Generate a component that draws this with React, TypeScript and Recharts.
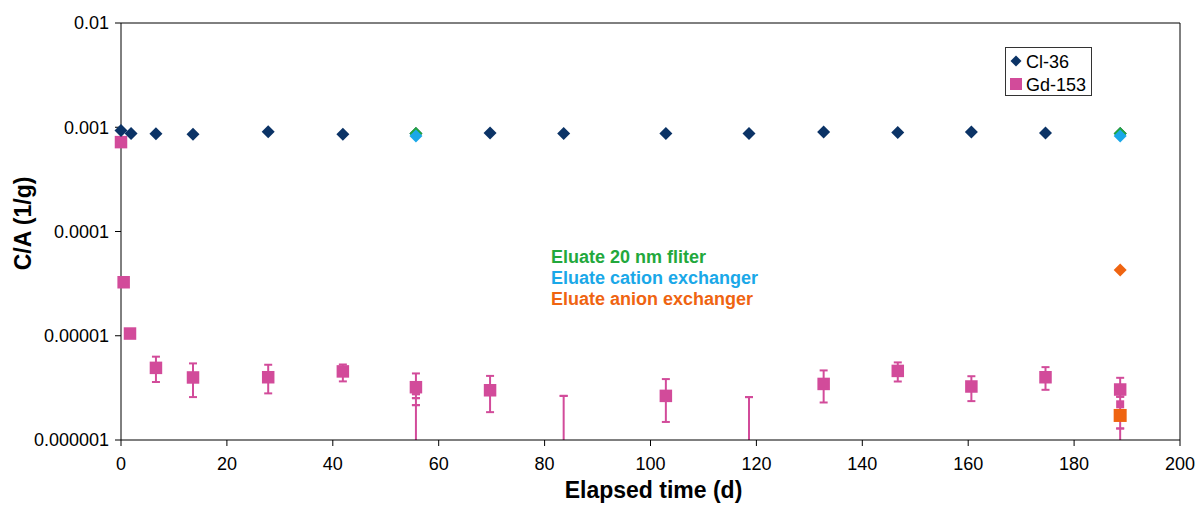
import React from 'react';
import { ScatterChart, Scatter, XAxis, YAxis, ErrorBar, ReferenceLine, Legend } from 'recharts';

const FONT = '"Liberation Sans", Arial, Helvetica, sans-serif';
const NAVY = '#0b3366';
const PINK = '#d24b9a';
const GREEN = '#22a83c';
const CYAN = '#1aa8e8';
const ORANGE = '#ef6411';

// Axis ticks
const xTicks = [0, 20, 40, 60, 80, 100, 120, 140, 160, 180, 200];
const yTicks = [0.000001, 0.00001, 0.0001, 0.001, 0.01];
const yTickLabels = ['0.000001', '0.00001', '0.0001', '0.001', '0.01'];

// Cl-36
const clDays = [0, 1.9, 6.6, 13.6, 27.8, 41.9, 55.7, 69.7, 83.6, 102.9, 118.6, 132.7, 146.7, 160.6, 174.6, 188.7];
const clValues = [0.00093, 0.00087, 0.000864, 0.000857, 0.000903, 0.000857, 0.00087, 0.00088, 0.00087, 0.00087, 0.00087, 0.0009, 0.00089, 0.0009, 0.00088, 0.00087];

// Gd-153 (squares with error bars)
const gdDays = [0, 0.5, 1.7, 6.6, 13.6, 27.8, 41.9, 55.7, 69.7, 102.9, 132.7, 146.7, 160.6, 174.6, 188.7];
const gdValues = [0.00072, 0.0000326, 0.0000105, 0.00000492, 0.00000398, 0.000004, 0.00000455, 0.00000321, 0.000003, 0.00000265, 0.00000345, 0.0000046, 0.00000326, 0.000004, 0.00000305];
const gdLow = [0.00072, 0.0000326, 0.0000105, 0.0000036, 0.00000258, 0.0000028, 0.00000365, 0.00000321, 0.00000185, 0.00000149, 0.00000229, 0.00000364, 0.00000236, 0.00000303, 0.00000305];
const gdHigh = [0.00072, 0.0000326, 0.0000105, 0.0000063, 0.00000543, 0.00000527, 0.0000053, 0.00000435, 0.00000412, 0.00000384, 0.00000465, 0.00000555, 0.00000409, 0.000005, 0.00000395];

// Gd-153 error bars running below the axis minimum
const tailDays = [55.7, 83.6, 118.6, 188.7];
const tailTops = [0.00000321, 0.00000265, 0.00000258, 0.00000305];
const tailBottom = 0.0000010001;

// extra error-bar caps of overlapping Gd-153 points
const capDays = [55.7, 55.7, 55.7, 83.6, 118.6, 188.7, 188.7];
const capValues = [0.00000275, 0.00000252, 0.00000216, 0.00000265, 0.00000258, 0.0000026, 0.00000129];
const minorDays = [188.7];
const minorValues = [0.0000022];

// Eluates
const filterDays = [55.7, 188.7];
const filterValues = [0.00087, 0.00087];
const cationDays = [55.7, 188.7];
const cationValues = [0.000823, 0.000823];
const anionClDays = [188.7];
const anionClValues = [0.0000428];
const anionGdDays = [188.7];
const anionGdValues = [0.00000172];

const annotations = [
  { text: 'Eluate 20 nm fliter', color: GREEN },
  { text: 'Eluate cation exchanger', color: CYAN },
  { text: 'Eluate anion exchanger', color: ORANGE },
];

const pts = (xs: number[], ys: number[]) => xs.map((x, i) => ({ x, y: ys[i] }));

const clData = pts(clDays, clValues);
const gdData = gdDays.map((x, i) => ({
  x,
  y: gdValues[i],
  err: [gdValues[i] - gdLow[i], gdHigh[i] - gdValues[i]],
}));
const tailData = tailDays.map((x, i) => ({ x, y: tailTops[i], err: [tailTops[i] - tailBottom, 0] }));
const capData = capDays.map((x, i) => ({ x, y: capValues[i], err: [0, 0] }));
const minorData = pts(minorDays, minorValues);
const filterData = pts(filterDays, filterValues);
const cationData = pts(cationDays, cationValues);
const anionClData = pts(anionClDays, anionClValues);
const anionGdData = pts(anionGdDays, anionGdValues);

const diamond = (color: string, r: number) => (props: any) => {
  const { cx, cy } = props;
  if (cx == null || cy == null) return <g />;
  return <polygon points={`${cx},${cy - r} ${cx + r},${cy} ${cx},${cy + r} ${cx - r},${cy}`} fill={color} />;
};
const square = (color: string, s: number) => (props: any) => {
  const { cx, cy } = props;
  if (cx == null || cy == null) return <g />;
  return <rect x={cx - s / 2} y={cy - s / 2} width={s} height={s} fill={color} />;
};
const nothing = () => <g />;

const XLabel = (props: any) => {
  const vb = props.viewBox || {};
  const cx = vb.x + vb.width / 2 + 3;
  const y = vb.y + 58;
  return (
    <text x={cx} y={y} textAnchor="middle" fontFamily={FONT} fontWeight="bold" fontSize={23} fill="#000">
      Elapsed time (d)
    </text>
  );
};

const YLabel = (props: any) => {
  const vb = props.viewBox || {};
  const cx = vb.x + 23;
  const cy = vb.y + vb.height / 2 - 8;
  return (
    <text
      x={cx}
      y={cy}
      transform={`rotate(-90 ${cx} ${cy})`}
      textAnchor="middle"
      dominantBaseline="central"
      fontFamily={FONT}
      fontWeight="bold"
      fontSize={23}
      fill="#000"
    >
      C/A (1/g)
    </text>
  );
};

const LegendBox = (props: any) => {
  const payload = (props.payload || []).filter((p: any) => p.value === 'Cl-36' || p.value === 'Gd-153');
  return (
    <div style={{ width: 87, height: 49, border: '1px solid #333', background: '#fff', boxSizing: 'border-box' }}>
      <svg width={85} height={47}>
        {payload.map((p: any, i: number) => {
          const cy = 13 + i * 23;
          const isDiamond = p.value === 'Cl-36';
          return (
            <g key={p.value}>
              {isDiamond ? (
                <polygon points={`10,${cy - 5.5} 15.5,${cy} 10,${cy + 5.5} 4.5,${cy}`} fill={p.color} />
              ) : (
                <rect x={4} y={cy - 6} width={12} height={12} fill={p.color} />
              )}
              <text x={20} y={cy + 6.5} fontFamily={FONT} fontSize={18} fill="#000">
                {p.value}
              </text>
            </g>
          );
        })}
      </svg>
    </div>
  );
};

export default function App() {
  return (
    <div style={{ position: 'absolute', left: 0, top: 0, width: 1199, height: 505, background: '#fff' }}>
      <ScatterChart width={1199} height={505} margin={{ top: 23, right: 19, bottom: 0, left: 0 }}>
        <XAxis
          type="number"
          dataKey="x"
          domain={[0, 200]}
          ticks={xTicks}
          interval={0}
          height={65}
          tickSize={6}
          tickMargin={11}
          stroke="#000"
          tick={{ fill: '#000', fontSize: 18, fontFamily: FONT }}
          label={{ content: XLabel }}
        />
        <YAxis
          type="number"
          dataKey="y"
          scale="log"
          domain={[0.000001, 0.01]}
          ticks={yTicks}
          interval={0}
          width={121}
          tickSize={6}
          tickMargin={6}
          stroke="#000"
          tick={{ fill: '#000', fontSize: 18, fontFamily: FONT }}
          tickFormatter={(v: number) => {
            const i = yTicks.indexOf(v);
            return i >= 0 ? yTickLabels[i] : String(v);
          }}
          label={{ content: YLabel }}
        />
        <ReferenceLine y={0.01} stroke="#000" />
        <ReferenceLine x={200} stroke="#000" />
        <Legend
          layout="vertical"
          align="center"
          verticalAlign="middle"
          content={LegendBox}
          wrapperStyle={{ left: 1005, top: 47, width: 87, height: 49 }}
        />
        <Scatter name="tails" data={tailData} shape={nothing} legendType="none" isAnimationActive={false}>
          <ErrorBar dataKey="err" direction="y" width={0} stroke={PINK} strokeWidth={2} />
        </Scatter>
        <Scatter name="caps" data={capData} shape={nothing} legendType="none" isAnimationActive={false}>
          <ErrorBar dataKey="err" direction="y" width={4} stroke={PINK} strokeWidth={2} />
        </Scatter>
        <Scatter name="minor" data={minorData} shape={square(PINK, 8)} legendType="none" isAnimationActive={false} />
        <Scatter name="Gd-153" data={gdData} fill={PINK} shape={square(PINK, 12.5)} isAnimationActive={false}>
          <ErrorBar dataKey="err" direction="y" width={4} stroke={PINK} strokeWidth={2} />
        </Scatter>
        <Scatter name="Cl-36" data={clData} fill={NAVY} shape={diamond(NAVY, 6.5)} isAnimationActive={false} />
        <Scatter name="filter" data={filterData} shape={diamond(GREEN, 6.5)} legendType="none" isAnimationActive={false} />
        <Scatter name="cation" data={cationData} shape={diamond(CYAN, 6.5)} legendType="none" isAnimationActive={false} />
        <Scatter name="anionCl" data={anionClData} shape={diamond(ORANGE, 6.5)} legendType="none" isAnimationActive={false} />
        <Scatter name="anionGd" data={anionGdData} shape={square(ORANGE, 13)} legendType="none" isAnimationActive={false} />
      </ScatterChart>
      <svg
        width={1199}
        height={505}
        style={{ position: 'absolute', left: 0, top: 0, pointerEvents: 'none' }}
      >
        {annotations.map((a, i) => (
          <text key={a.text} x={551} y={262.5 + i * 21} fontFamily={FONT} fontWeight="bold" fontSize={18} fill={a.color}>
            {a.text}
          </text>
        ))}
      </svg>
    </div>
  );
}
